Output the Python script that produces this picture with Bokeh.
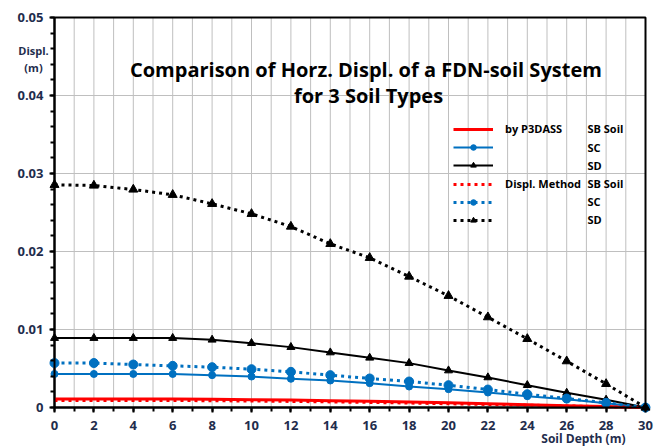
from bokeh.plotting import figure
from bokeh.models import (FixedTicker, Range1d, Legend, LegendItem, Label, ColumnDataSource)
from bokeh.embed import file_html
from bokeh.resources import INLINE

depth = [0, 2, 4, 6, 8, 10, 12, 14, 16, 18, 20, 22, 24, 26, 28, 30]

sb_p3dass = [0.0011, 0.0011, 0.0011, 0.0011, 0.00105, 0.001, 0.00095, 0.00088,
             0.0008, 0.0007, 0.0006, 0.00048, 0.00036, 0.00024, 0.00012, 0.0]
sc_p3dass = [0.0043, 0.0043, 0.0043, 0.0043, 0.00415, 0.00397, 0.00368, 0.00346,
             0.00312, 0.00269, 0.00235, 0.00192, 0.00145, 0.00107, 0.00055, 0.0]
sd_p3dass = [0.0089, 0.0089, 0.0089, 0.0089, 0.00868, 0.00825, 0.00774, 0.00705,
             0.00637, 0.00569, 0.00474, 0.00385, 0.00286, 0.00188, 0.00099, 0.0]

sb_disp = [0.0009, 0.0009, 0.0009, 0.0009, 0.00087, 0.00083, 0.00078, 0.00072,
           0.00065, 0.00057, 0.00048, 0.00039, 0.0003, 0.0002, 0.0001, 0.0]
sc_disp = [0.0057, 0.0057, 0.00551, 0.00534, 0.00517, 0.00491, 0.00457, 0.00415,
           0.00372, 0.00333, 0.00286, 0.0023, 0.0017, 0.00115, 0.0006, 0.0]
sd_disp = [0.02855, 0.02846, 0.02795, 0.02727, 0.02611, 0.02483, 0.0232, 0.02098,
           0.01919, 0.01679, 0.01432, 0.01158, 0.0088, 0.00594, 0.00303, 0.0]

x_min, x_max = 0, 30
y_min, y_max = 0, 0.05
x_ticks = list(range(0, 31, 2))
x_minor = list(range(0, 31))
y_ticks = [0, 0.01, 0.02, 0.03, 0.04, 0.05]
y_minor = [i * 0.002 for i in range(26)]
y_tick_labels = ["0", "0.01", "0.02", "0.03", "0.04", "0.05"]

title_1 = "Comparison  of Horz. Displ. of a FDN-soil System"
title_2 = "for 3 Soil Types"
x_label = "Soil Depth (m)"
y_label_1 = "Displ."
y_label_2 = "(m)"
method_labels = ["by P3DASS", "Displ. Method"]
soil_labels = ["SB Soil", "SC", "SD"]

RED = "#FF0000"
BLUE = "#0070C0"
BLACK = "#000000"
GRID = "#BFBFBF"
FONT = "Open Sans"
TICK_COLOR = "#1F2D4D"

W, H = 668, 447
# plot area in canvas pixels
PL, PR, PT, PB = 54, 645, 17, 407
sx = (PR - PL) / (x_max - x_min)
sy = (PB - PT) / (y_max - y_min)
x_range = Range1d(x_min - PL / sx, x_max + (W - PR) / sx)
y_range = Range1d(y_min - (H - PB) / sy, y_max + PT / sy)

p = figure(width=W, height=H, output_backend="svg", toolbar_location=None,
           x_range=x_range, y_range=y_range,
           min_border_left=0, min_border_right=0, min_border_top=0, min_border_bottom=0)
p.background_fill_color = "white"
p.border_fill_color = "white"
p.outline_line_color = None
p.xgrid.visible = False
p.ygrid.visible = False

# axes placed at the data origin
p.xaxis.fixed_location = y_min
p.yaxis.fixed_location = x_min
p.xaxis.bounds = (x_min, x_max)
p.yaxis.bounds = (y_min, y_max)
p.xaxis.ticker = FixedTicker(ticks=x_ticks, minor_ticks=x_minor)
p.yaxis.ticker = FixedTicker(ticks=y_ticks, minor_ticks=y_minor)
p.yaxis.major_label_overrides = {t: l for t, l in zip(y_ticks, y_tick_labels)}
for ax in (p.xaxis, p.yaxis):
    ax.axis_line_color = "black"
    ax.axis_line_width = 2
    ax.major_tick_line_color = "black"
    ax.minor_tick_line_color = "black"
    ax.major_tick_line_width = 2
    ax.minor_tick_line_width = 2
    ax.major_tick_in = 0
    ax.minor_tick_in = 0
    ax.major_tick_out = 5
    ax.minor_tick_out = 4
    ax.major_label_text_font = FONT
    ax.major_label_text_font_style = "bold"
    ax.major_label_text_font_size = "13px"
    ax.major_label_text_color = TICK_COLOR
p.xaxis.major_label_standoff = 8
p.yaxis.major_label_standoff = 6

# grid lines (vertical every 1 unit, horizontal at major y ticks)
p.segment(x0=x_minor, y0=[y_min] * len(x_minor), x1=x_minor, y1=[y_max] * len(x_minor),
          line_color=GRID, line_width=1)
p.segment(x0=[x_min] * len(y_ticks), y0=y_ticks, x1=[x_max] * len(y_ticks), y1=y_ticks,
          line_color=GRID, line_width=1)
# plot-area border
p.quad(left=[x_min], right=[x_max], bottom=[y_min], top=[y_max],
       fill_color=None, line_color="black", line_width=2)

src = ColumnDataSource(dict(x=depth, sb1=sb_p3dass, sc1=sc_p3dass, sd1=sd_p3dass,
                            sb2=sb_disp, sc2=sc_disp, sd2=sd_disp))

DOT = "3 4"
r_sb1 = p.line("x", "sb1", source=src, line_color=RED, line_width=3)
r_sc1 = p.line("x", "sc1", source=src, line_color=BLUE, line_width=2)
m_sc1 = p.scatter("x", "sc1", source=src, marker="circle", size=7, color=BLUE)
r_sd1 = p.line("x", "sd1", source=src, line_color=BLACK, line_width=2)
m_sd1 = p.scatter("x", "sd1", source=src, marker="triangle", size=8, color=BLACK)
r_sb2 = p.line("x", "sb2", source=src, line_color=RED, line_width=3, line_dash=DOT)
r_sc2 = p.line("x", "sc2", source=src, line_color=BLUE, line_width=3, line_dash=DOT)
m_sc2 = p.scatter("x", "sc2", source=src, marker="circle", size=9, color=BLUE)
r_sd2 = p.line("x", "sd2", source=src, line_color=BLACK, line_width=3, line_dash=DOT)
m_sd2 = p.scatter("x", "sd2", source=src, marker="triangle", size=9, color=BLACK)

items = [
    LegendItem(label=method_labels[0], renderers=[r_sb1]),
    LegendItem(label=" ", renderers=[r_sc1, m_sc1]),
    LegendItem(label=" ", renderers=[r_sd1, m_sd1]),
    LegendItem(label=method_labels[1], renderers=[r_sb2]),
    LegendItem(label=" ", renderers=[r_sc2, m_sc2]),
    LegendItem(label=" ", renderers=[r_sd2, m_sd2]),
]
legend = Legend(items=items, location=(453, H - 227), padding=0, margin=0,
                border_line_alpha=0, background_fill_alpha=0,
                glyph_width=40, glyph_height=14, label_height=14, spacing=4,
                label_standoff=12, label_text_font=FONT, label_text_font_style="bold",
                label_text_font_size="11px", label_text_color="black")
p.add_layout(legend, "center")

# second legend column
row_y = [128, 146.5, 165, 183, 201, 219]
for i, yy in enumerate(row_y):
    p.add_layout(Label(x=587, y=H - yy, x_units="screen", y_units="screen",
                       text=soil_labels[i % 3], text_font=FONT, text_font_style="bold",
                       text_font_size="11px", text_color="black", text_baseline="middle"))

# title
p.add_layout(Label(x=368, y=H - 69, x_units="screen", y_units="screen", text=title_1,
                   text_font=FONT, text_font_style="bold", text_font_size="20px",
                   text_align="center", text_baseline="alphabetic", text_color="black"))
p.add_layout(Label(x=368, y=H - 95, x_units="screen", y_units="screen", text=title_2,
                   text_font=FONT, text_font_style="bold", text_font_size="20px",
                   text_align="center", text_baseline="alphabetic", text_color="black"))

# y label
p.add_layout(Label(x=33, y=H - 50, x_units="screen", y_units="screen", text=y_label_1,
                   text_font=FONT, text_font_style="bold", text_font_size="11px",
                   text_align="center", text_baseline="alphabetic", text_color=TICK_COLOR))
p.add_layout(Label(x=33, y=H - 67, x_units="screen", y_units="screen", text=y_label_2,
                   text_font=FONT, text_font_style="bold", text_font_size="11px",
                   text_align="center", text_baseline="alphabetic", text_color=TICK_COLOR))

# x label
p.add_layout(Label(x=625, y=1, x_units="screen", y_units="screen", text=x_label,
                   text_font=FONT, text_font_style="bold", text_font_size="12px",
                   text_align="right", text_baseline="bottom", text_color=TICK_COLOR))

open("out.html", "w").write(file_html(p, INLINE))
